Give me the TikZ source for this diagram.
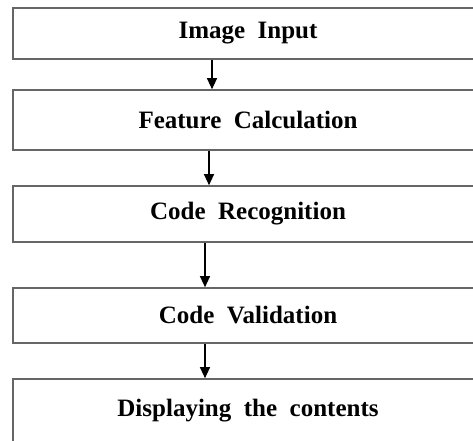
\documentclass[tikz,border=0pt]{standalone}
\usepackage{fontspec}
\setmainfont{Liberation Serif}
\usetikzlibrary{arrows.meta}
\begin{document}
\begin{tikzpicture}[x=1pt,y=1pt,
  stepbox/.style={draw=black!60, line width=1.6pt, rectangle, minimum width=470pt, inner sep=0pt, font=\fontsize{25}{27}\selectfont\bfseries, fill=white},
  flow/.style={draw=black, line width=1.1pt, -{Triangle[length=11pt,width=10pt]}}]
\useasboundingbox (0,0) rectangle (473,440);
\clip (0,0) rectangle (473,440);
\node[stepbox, minimum height=51pt] (a) at (248,406.5) {Image\ \ Input};
\node[stepbox, minimum height=60pt] (b) at (248,320) {Feature\ \ Calculation};
\node[stepbox, minimum height=56pt] (c) at (248,226) {Code\ \ Recognition};
\node[stepbox, minimum height=55pt] (d) at (248,124.5) {Code\ \ Validation};
\node[stepbox, minimum height=64pt] (e) at (248,29) {Displaying\ \ the\ \ contents};
\draw[flow] ([xshift=-36pt]a.south) -- ([xshift=-36pt]b.north);
\draw[flow] ([xshift=-39pt]b.south) -- ([xshift=-39pt]c.north);
\draw[flow] ([xshift=-43pt]c.south) -- ([xshift=-43pt]d.north);
\draw[flow] ([xshift=-43pt]d.south) -- ([xshift=-43pt]e.north);
\end{tikzpicture}
\end{document}
